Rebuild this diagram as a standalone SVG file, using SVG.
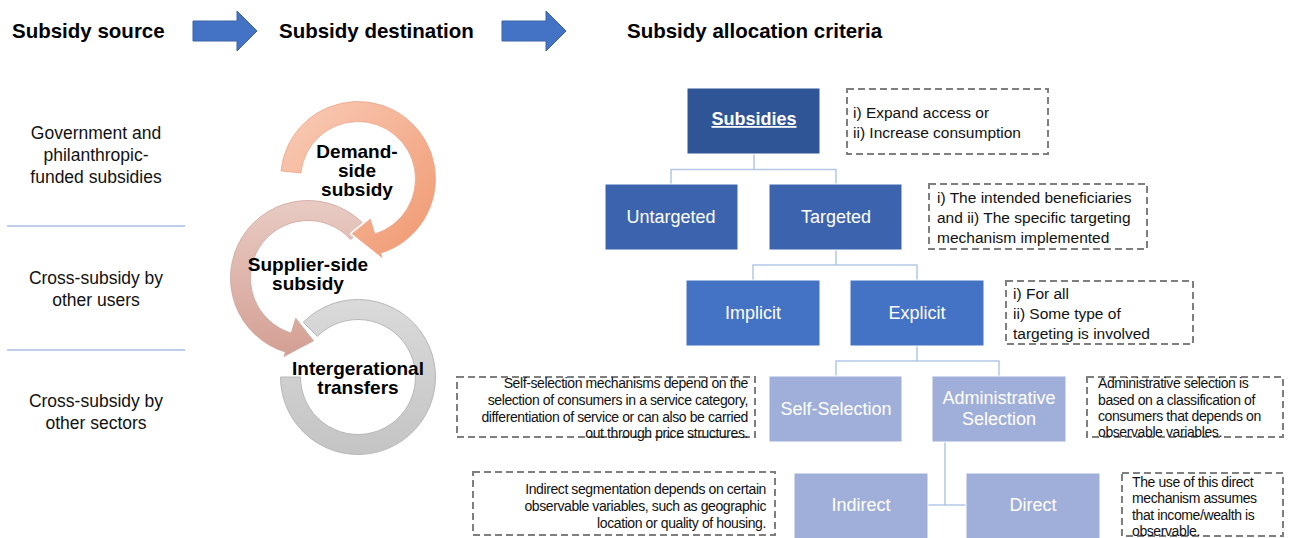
<svg xmlns="http://www.w3.org/2000/svg" width="1291" height="538" viewBox="0 0 1291 538">
<defs>
<linearGradient id="g1" x1="0" y1="0" x2="1" y2="1"><stop offset="0" stop-color="#F9CDB9"/><stop offset="1" stop-color="#F0976F"/></linearGradient>
<linearGradient id="g2" x1="0" y1="0" x2="0" y2="1"><stop offset="0" stop-color="#E8CBC3"/><stop offset="1" stop-color="#D49F94"/></linearGradient>
<linearGradient id="g3" x1="0" y1="0" x2="0" y2="1"><stop offset="0" stop-color="#DADADA"/><stop offset="1" stop-color="#C4C4C4"/></linearGradient>
<style>
.hdr{font-family:"Liberation Sans",Arial,sans-serif;font-weight:bold;font-size:20.5px;fill:#000}
.src{font-family:"Liberation Sans",Arial,sans-serif;font-size:17.5px;fill:#111;text-anchor:middle}
.ring{font-family:"Liberation Sans",Arial,sans-serif;font-weight:bold;font-size:19px;fill:#000;text-anchor:middle}
.node{stroke:#fff;stroke-width:1}
.nt{font-family:"Liberation Sans",Arial,sans-serif;font-size:18px;fill:#fff;text-anchor:middle}
.dash{fill:none;stroke:#7F7F7F;stroke-width:2;stroke-dasharray:7 4}
.dt{font-family:"Liberation Sans",Arial,sans-serif;font-size:15.5px;fill:#111}
.st{font-family:"Liberation Sans",Arial,sans-serif;font-size:14px;letter-spacing:-0.4px;fill:#111}
.con{fill:none;stroke:#B4C7E7;stroke-width:1.5}
.sep{stroke:#7F9FD6;stroke-width:1.2}
.arr{fill:#4472C4;stroke:#3A62A8;stroke-width:1}
.halo{fill:#fff;stroke:#fff;stroke-width:4;stroke-linejoin:round}
</style>
<path id="r1" d="M280.93,170.9 A77.5,77.5 0 1 1 380.66,253.11 L381.98,257.42 L352.25,233.7 L370.28,219.16 L374.81,233.99 A57.5,57.5 0 1 0 300.82,172.99 Z"/>
<path id="r2" d="M365.59,226.14 A77.5,77.5 0 1 0 285.34,352.11 L284.02,356.42 L313.5,340.8 L295.72,318.16 L291.19,332.99 A57.5,57.5 0 1 1 350.73,239.53 Z"/>
<path id="r3" d="M303.2,322.2 A77.5,77.5 0 1 1 280.5,377 L300.5,377 A57.5,57.5 0 1 0 317.34,336.34 Z"/>
</defs>
<rect width="1291" height="538" fill="#fff"/>

<g id="header">
<text class="hdr" x="12" y="38">Subsidy source</text>
<path class="arr" d="M193,21 H237 V11 L257,31 L237,51 V41 H193 Z"/>
<text class="hdr" x="279" y="38">Subsidy destination</text>
<path class="arr" d="M502,21 H546 V11 L566,31 L546,51 V41 H502 Z"/>
<text class="hdr" x="627" y="38">Subsidy allocation criteria</text>
</g>

<g id="sources">
<text class="src" x="96" y="139">Government and</text>
<text class="src" x="96" y="161">philanthropic-</text>
<text class="src" x="96" y="183">funded subsidies</text>
<line class="sep" x1="7" y1="226" x2="185" y2="226"/>
<text class="src" x="96" y="284">Cross-subsidy by</text>
<text class="src" x="96" y="306">other users</text>
<line class="sep" x1="7" y1="350" x2="185" y2="350"/>
<text class="src" x="96" y="407">Cross-subsidy by</text>
<text class="src" x="96" y="429">other sectors</text>
</g>

<g id="ring-intergenerational">
<use href="#r3" fill="url(#g3)" stroke="#B8B8B8" stroke-width="1"/>
<text class="ring" x="358" y="375">Intergerational</text>
<text class="ring" x="358" y="394">transfers</text>
</g>
<g id="ring-supplier">
<use href="#r2" class="halo"/>
<use href="#r2" fill="url(#g2)" stroke="#CDA59C" stroke-width="0.8"/>
<text class="ring" x="308" y="271">Supplier-side</text>
<text class="ring" x="308" y="290">subsidy</text>
</g>
<g id="ring-demand">
<use href="#r1" class="halo"/>
<use href="#r1" fill="url(#g1)" stroke="#EDA385" stroke-width="0.8"/>
<text class="ring" x="357" y="158">Demand-</text>
<text class="ring" x="357" y="177">side</text>
<text class="ring" x="357" y="196">subsidy</text>
</g>

<g id="connectors">
<path class="con" d="M754,154 V169.5 M671,184 V169.5 H836 V184"/>
<path class="con" d="M836,250 V265 M753,280 V265 H917 V280"/>
<path class="con" d="M917,346 V361 M836,376 V361 H999 V376"/>
<path class="con" d="M945,442 V505 M928,505 H966"/>
</g>

<g id="n-subsidies">
<rect class="node" x="687" y="88" width="133" height="66" fill="#2F5597"/>
<text class="nt" x="754" y="125" font-weight="bold" font-size="18.5" text-decoration="underline">Subsidies</text>
</g>
<g id="n-untargeted">
<rect class="node" x="605" y="184" width="133" height="66" fill="#3C64AE"/>
<text class="nt" x="671" y="223">Untargeted</text>
</g>
<g id="n-targeted">
<rect class="node" x="769" y="184" width="133" height="66" fill="#3C64AE"/>
<text class="nt" x="836" y="223">Targeted</text>
</g>
<g id="n-implicit">
<rect class="node" x="686" y="280" width="134" height="66" fill="#4472C4"/>
<text class="nt" x="753" y="319">Implicit</text>
</g>
<g id="n-explicit">
<rect class="node" x="850" y="280" width="134" height="66" fill="#4472C4"/>
<text class="nt" x="917" y="319">Explicit</text>
</g>
<g id="n-self">
<rect class="node" x="769" y="376" width="133" height="66" fill="#A0AFD9"/>
<text class="nt" x="836" y="415">Self-Selection</text>
</g>
<g id="n-admin">
<rect class="node" x="932" y="376" width="134" height="66" fill="#A0AFD9"/>
<text class="nt" x="999" y="404">Administrative</text>
<text class="nt" x="999" y="425">Selection</text>
</g>
<g id="n-indirect">
<rect class="node" x="794" y="473" width="134" height="67" fill="#A0AFD9"/>
<text class="nt" x="861" y="511">Indirect</text>
</g>
<g id="n-direct">
<rect class="node" x="966" y="473" width="134" height="67" fill="#A0AFD9"/>
<text class="nt" x="1033" y="511">Direct</text>
</g>

<g id="note-subsidies">
<rect class="dash" x="847" y="89" width="201" height="65"/>
<text class="dt" x="853" y="118">i) Expand access or</text>
<text class="dt" x="853" y="138">ii) Increase consumption</text>
</g>
<g id="note-targeted">
<rect class="dash" x="929" y="184" width="218" height="65"/>
<text class="dt" x="937" y="203">i) The intended beneficiaries</text>
<text class="dt" x="937" y="223">and ii) The specific targeting</text>
<text class="dt" x="937" y="243">mechanism implemented</text>
</g>
<g id="note-explicit">
<rect class="dash" x="1006" y="281" width="187" height="63"/>
<text class="dt" x="1013" y="299">i) For all</text>
<text class="dt" x="1013" y="319">ii) Some type of</text>
<text class="dt" x="1013" y="339">targeting is involved</text>
</g>
<g id="note-self">
<rect class="dash" x="457" y="377" width="298" height="60"/>
<text class="st" x="748" y="388" text-anchor="end">Self-selection mechanisms depend on the</text>
<text class="st" x="748" y="405" text-anchor="end">selection of consumers in a service category,</text>
<text class="st" x="748" y="422" text-anchor="end">differentiation of service or can also be carried</text>
<text class="st" x="748" y="438" text-anchor="end">out through price structures.</text>
</g>
<g id="note-admin">
<rect class="dash" x="1087" y="377" width="196" height="60"/>
<text class="st" x="1098" y="388">Administrative selection is</text>
<text class="st" x="1098" y="405">based on a classification of</text>
<text class="st" x="1098" y="421">consumers that depends on</text>
<text class="st" x="1098" y="437">observable variables.</text>
</g>
<g id="note-indirect">
<rect class="dash" x="473" y="472" width="302" height="63"/>
<text class="st" x="766" y="494" text-anchor="end">Indirect segmentation depends on certain</text>
<text class="st" x="766" y="511" text-anchor="end">observable variables, such as geographic</text>
<text class="st" x="766" y="528" text-anchor="end">location or quality of housing.</text>
</g>
<g id="note-direct">
<rect class="dash" x="1122" y="473" width="161" height="63"/>
<text class="st" x="1132" y="487">The use of this direct</text>
<text class="st" x="1132" y="503">mechanism assumes</text>
<text class="st" x="1132" y="520">that income/wealth is</text>
<text class="st" x="1132" y="536">observable.</text>
</g>
</svg>
